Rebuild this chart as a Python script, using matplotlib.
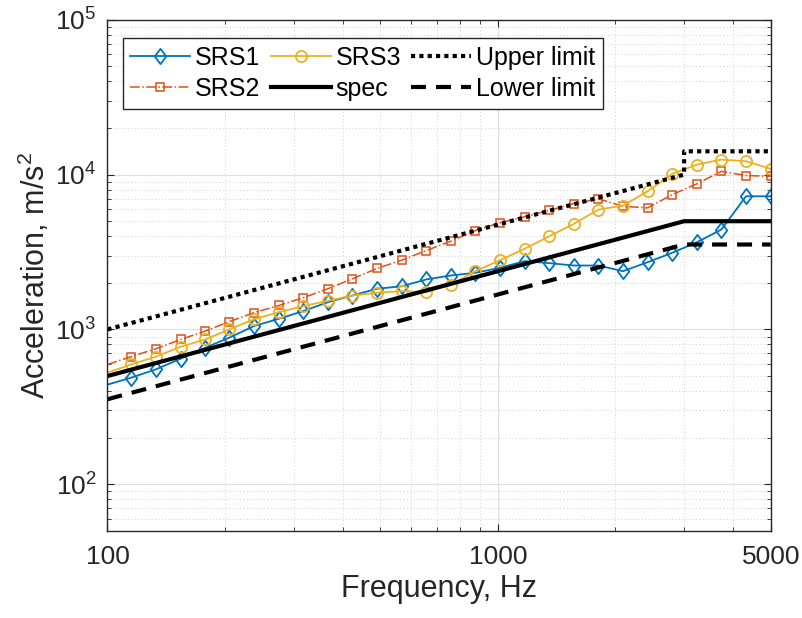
import numpy as np
import matplotlib as mpl
mpl.use('Agg')
import matplotlib.pyplot as plt
from matplotlib.path import Path
from matplotlib.ticker import FixedLocator, FixedFormatter, LogLocator, NullFormatter

plt.rcParams['font.family'] = ['Liberation Sans', 'DejaVu Sans']
plt.rcParams['mathtext.default'] = 'regular'

# frequencies (Hz)
freq = [100, 115, 133, 154, 178, 205, 237, 275, 317, 367, 424, 490, 567, 656,
        758, 876, 1013, 1171, 1354, 1565, 1810, 2092, 2419, 2797, 3233, 3738,
        4322, 4996]

srs1 = [440, 488, 552, 647, 762, 884, 1050, 1172, 1312, 1500, 1656, 1832, 1900,
        2104, 2230, 2323, 2500, 2763, 2680, 2587, 2587, 2377, 2717, 3126, 3656,
        4418, 7244, 7244]
srs2 = [594, 667, 750, 861, 975, 1122, 1282, 1428, 1602, 1832, 2125, 2475, 2801,
        3233, 3716, 4353, 4878, 5335, 5870, 6500, 6970, 6243, 6095, 7430, 8710,
        10500, 9860, 9750]
srs3 = [526, 594, 667, 773, 861, 1000, 1161, 1294, 1413, 1530, 1656, 1726, 1766,
        1741, 1950, 2377, 2801, 3318, 3997, 4808, 5944, 6310, 7800, 10100, 11600,
        12500, 12200, 10900]

spec_f = [100, 3000, 5000]
spec_a = [500, 5000, 5000]
upper_f = [100, 3000, 3000, 5000]
upper_a = [1000, 10000, 14142, 14142]
lower_f = [100, 3000, 5000]
lower_a = [354, 3536, 3536]

c1, c2, c3 = '#0072BD', '#D95319', '#EDB120'
diamond = Path([(0, 1), (0.75, 0), (0, -1), (-0.75, 0), (0, 1)],
               [Path.MOVETO, Path.LINETO, Path.LINETO, Path.LINETO, Path.CLOSEPOLY])

fig = plt.figure(figsize=(8.02, 6.18), dpi=100)
ax = fig.add_axes([0.134, 0.141, 0.827, 0.827])
ax.set_xscale('log')
ax.set_yscale('log')

mk = range(1, len(freq))
l1, = ax.plot(freq, srs1, '-', color=c1, lw=1.3, marker=diamond, ms=11,
              mfc='none', mew=1.3, markevery=mk, label='SRS1')
l2, = ax.plot(freq, srs2, '-.', color=c2, lw=1.1, marker='s', ms=6,
              mfc='none', mew=1.1, markevery=mk, label='SRS2')
l3, = ax.plot(freq, srs3, '-', color=c3, lw=1.3, marker='o', ms=8,
              mfc='none', mew=1.3, markevery=mk, label='SRS3')
l4, = ax.plot(spec_f, spec_a, '-', color='k', lw=3, label='spec')
l5, = ax.plot(upper_f, upper_a, color='k', lw=3, ls=(0, (1, 1)), label='Upper limit')
l6, = ax.plot(lower_f, lower_a, color='k', lw=3, ls=(0, (3.6, 2.4)), label='Lower limit')

ax.set_xlim(100, 5000)
ax.set_ylim(50, 1e5)

ax.xaxis.set_major_locator(FixedLocator([100, 1000, 5000]))
ax.xaxis.set_major_formatter(FixedFormatter(['100', '1000', '5000']))
ax.xaxis.set_minor_locator(LogLocator(base=10, subs=np.arange(2, 10), numticks=20))
ax.xaxis.set_minor_formatter(NullFormatter())
ax.yaxis.set_major_locator(FixedLocator([1e2, 1e3, 1e4, 1e5]))
ax.yaxis.set_major_formatter(FixedFormatter(['$10^{2}$', '$10^{3}$', '$10^{4}$', '$10^{5}$']))
ax.yaxis.set_minor_locator(LogLocator(base=10, subs=np.arange(2, 10), numticks=20))
ax.yaxis.set_minor_formatter(NullFormatter())

ax.tick_params(which='both', direction='in', top=True, right=True, colors='#262626')
ax.tick_params(which='major', length=5, labelsize=19)
ax.tick_params(axis='x', which='major', pad=10)
ax.tick_params(axis='y', which='major', pad=8)
ax.tick_params(which='minor', length=3)
for s in ax.spines.values():
    s.set_color('#262626')
    s.set_linewidth(1.0)

ax.grid(which='major', color='#dedede', lw=0.8, ls='-')
ax.grid(which='minor', color='#d0d0d0', lw=0.7, ls=(0, (1, 2.5)))
ax.set_axisbelow(True)

ax.set_xlabel('Frequency, Hz', fontsize=22, color='#262626', labelpad=4)
ax.set_ylabel('Acceleration, m/s$^2$', fontsize=22, color='#262626', labelpad=2)

leg = ax.legend(handles=[l1, l2, l3, l4, l5, l6], ncol=3, loc='upper left',
                bbox_to_anchor=(0.023, 0.964), fontsize=18, frameon=True,
                fancybox=False, edgecolor='#262626', framealpha=1,
                handlelength=2.4, handletextpad=0.2, columnspacing=0.4,
                labelspacing=0.3, borderpad=0.3, borderaxespad=0)
leg.get_frame().set_linewidth(1.0)

plt.savefig('out.png', dpi=100)
